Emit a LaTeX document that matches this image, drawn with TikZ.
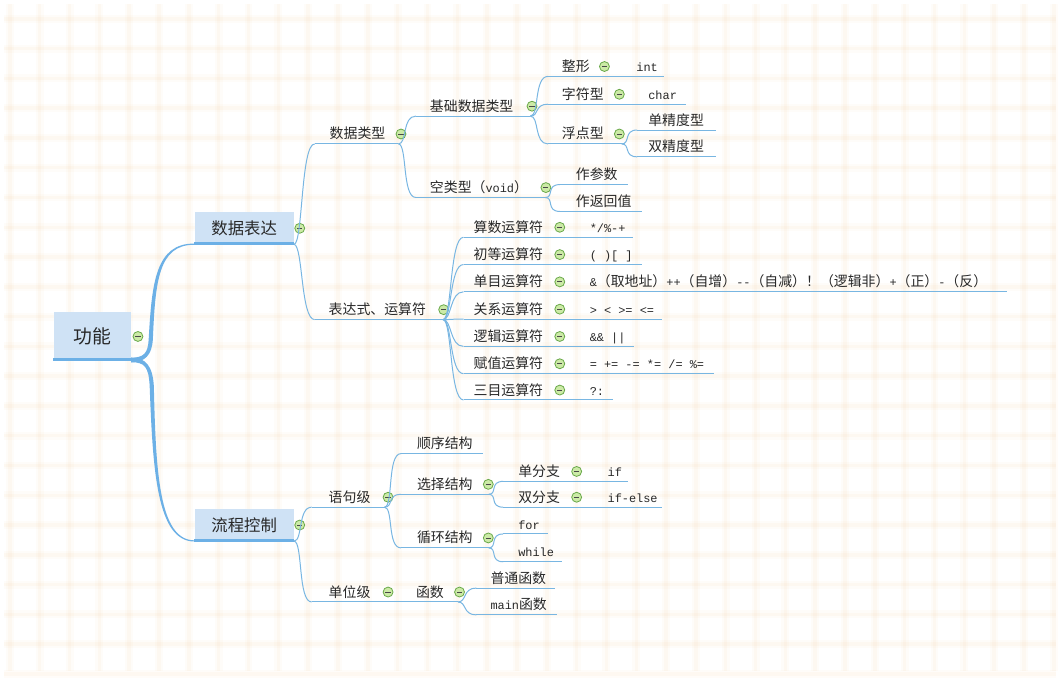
\documentclass[tikz,border=0pt]{standalone}
\usepackage{fontspec}
\setmainfont{Noto Sans CJK SC}
\newfontfamily\monofam{Liberation Mono}
\usetikzlibrary{calc}
\definecolor{gridc}{RGB}{248,214,172}
\definecolor{boxfill}{RGB}{207,226,245}
\definecolor{trunk}{RGB}{108,176,230}
\definecolor{branch}{RGB}{120,182,226}
\definecolor{txt}{RGB}{40,40,40}
\definecolor{foldfill}{RGB}{204,234,166}
\definecolor{folddraw}{RGB}{104,168,72}
\newcommand\mcode[1]{{\monofam\fontsize{12}{14}\selectfont #1}}
\begin{document}
\begin{tikzpicture}[x=1pt,y=-1pt,
  uline/.style={draw=branch,line width=1pt},
  conn/.style={draw=branch,line width=1pt},
  topic/.style={anchor=south west,inner sep=0pt,minimum height=16pt,
    append after command={(\tikzlastnode.south west) edge[uline] (\tikzlastnode.south east)}},
  lbl/.style={anchor=base west,inner sep=0pt,text=txt,font=\fontsize{14}{16}\selectfont},
  codelbl/.style={anchor=base west,inner sep=0pt,text=txt,font=\monofam\fontsize{12}{14}\selectfont},
  fold/.style={circle,minimum size=10pt,inner sep=0pt,draw=folddraw,line width=0.8pt,fill=foldfill,
    path picture={\draw[line width=0.9pt,txt!85] ($(path picture bounding box.center)+(-2.6,0)$)--($(path picture bounding box.center)+(2.6,0)$);}},
  bigbox/.style={rectangle,fill=boxfill,inner sep=0pt,text=txt},
  boxline/.style={draw=trunk,line width=3pt},
]
% background
\fill[white] (0,0) rectangle (1060,672);
\foreach \i in {0,...,35} {
  \draw[gridc,line width=8pt,opacity=0.07] ({6+30.05*\i},0) -- ({6+30.05*\i},672);
  \draw[gridc,line width=3.5pt,opacity=0.1] ({6+30.05*\i},0) -- ({6+30.05*\i},672);
}
\foreach \j in {0,...,22} {
  \draw[gridc,line width=8pt,opacity=0.07] (0,{15+30*\j}) -- (1060,{15+30*\j});
  \draw[gridc,line width=3.5pt,opacity=0.1] (0,{15+30*\j}) -- (1060,{15+30*\j});
}
\useasboundingbox (0,0) rectangle (1060,672);

% main boxes
\node[bigbox,minimum width=78pt,minimum height=49pt,font=\fontsize{19}{22}\selectfont] (root) at (89,334.5) {功能};
\node[bigbox,minimum width=100pt,minimum height=32pt,font=\fontsize{16.5}{19}\selectfont] (data) at (242,226) {数据表达};
\node[bigbox,minimum width=100pt,minimum height=32pt,font=\fontsize{16.5}{19}\selectfont] (flow) at (242,525) {流程控制};
\draw[boxline] ($(root.south west)+(0,-1)$) -- ($(root.south east)+(0,-1)$);
\draw[boxline] ($(data.south west)+(0,-1)$) -- ($(data.south east)+(0,-1)$);
\draw[boxline] ($(flow.south west)+(0,-1)$) -- ($(flow.south east)+(0,-1)$);

% trunk connectors (tapered)
\fill[trunk] ($(root.south east)+(0,-2.8)$) .. controls (141,356.2) and (145,352) .. (145.8,338)
  .. controls (149,280) and (153,241.2) .. ($(data.south west)+(0,-0.8)$)
  -- ($(data.south west)+(0,0.4)$) .. controls (155.5,242.4) and (152.5,280) .. (150,338)
  .. controls (149,354) and (142,360.8) .. ($(root.south east)+(0,1.8)$) -- cycle;
\fill[trunk] ($(root.south east)+(0,1.8)$) .. controls (142,360.8) and (145.8,366) .. (146.8,385)
  .. controls (150,470) and (154,541.4) .. ($(flow.south west)+(0,0.4)$)
  -- ($(flow.south west)+(0,-0.8)$) .. controls (156,540.2) and (153,470) .. (151,385)
  .. controls (149.8,365) and (143,356.2) .. ($(root.south east)+(0,-2.8)$) -- cycle;

\node[fold] (f-root) at (135,335) {};
\node[fold] (f-data) at (298,226) {};
\node[fold] (f-flow) at (298,525) {};

% ---------- data side ----------
\node[topic,minimum width=84pt] (dtype) at (313,141) {};
\node[topic,minimum width=129pt] (expr) at (313,318) {};
\node[lbl] (l-dtype) at (328,136) {数据类型};
\node[lbl] (l-expr) at (327,313) {表达式、运算符};
\node[fold] (f-dtype) at (400,131) {};
\node[fold] (f-expr) at (443,308) {};

\node[topic,minimum width=115pt] (basic) at (415,113) {};
\node[topic,minimum width=130pt] (void) at (415,195) {};
\node[lbl] (l-basic) at (429,108) {基础数据类型};
\node[lbl] (l-void) at (429,190) {空类型（\mcode{void}）};
\node[fold] (f-basic) at (532,103) {};
\node[fold] (f-void) at (546,185) {};

\node[topic,minimum width=117pt] (int) at (548,73) {};
\node[topic,minimum width=139pt] (chr) at (548,101) {};
\node[topic,minimum width=74pt] (flt) at (548,141) {};
\node[lbl] (l-int) at (562,68) {整形};
\node[codelbl] (c-int) at (637,68) {int};
\node[lbl] (l-chr) at (562,96) {字符型};
\node[codelbl] (c-chr) at (649,96) {char};
\node[lbl] (l-flt) at (562,136) {浮点型};
\node[fold] (f-int) at (605,63) {};
\node[fold] (f-chr) at (620,91) {};
\node[fold] (f-flt) at (620,131) {};

\node[topic,minimum width=79pt] (single) at (638,127) {};
\node[topic,minimum width=79pt] (double) at (638,154) {};
\node[lbl] (l-single) at (649,122) {单精度型};
\node[lbl] (l-double) at (649,149) {双精度型};

\node[topic,minimum width=68pt] (param) at (560,182) {};
\node[topic,minimum width=82pt] (ret) at (560,209) {};
\node[lbl] (l-param) at (576,177) {作参数};
\node[lbl] (l-ret) at (576,204) {作返回值};

% operators
\node[topic,minimum width=170pt] (op1) at (463,235) {};
\node[topic,minimum width=179pt] (op2) at (463,262.5) {};
\node[topic,minimum width=547pt] (op3) at (463,290) {};
\node[topic,minimum width=200pt] (op4) at (463,317.5) {};
\node[topic,minimum width=171pt] (op5) at (463,345) {};
\node[topic,minimum width=252pt] (op6) at (463,372.5) {};
\node[topic,minimum width=150pt] (op7) at (463,399) {};
\node[lbl] (l-op1) at (473,230) {算数运算符};
\node[lbl] (l-op2) at (473,257.5) {初等运算符};
\node[lbl] (l-op3) at (473,285) {单目运算符};
\node[lbl] (l-op4) at (473,312.5) {关系运算符};
\node[lbl] (l-op5) at (473,340) {逻辑运算符};
\node[lbl] (l-op6) at (473,367.5) {赋值运算符};
\node[lbl] (l-op7) at (473,394) {三目运算符};
\node[fold] (f-op1) at (560,225) {};
\node[fold] (f-op2) at (560,252.5) {};
\node[fold] (f-op3) at (560,280) {};
\node[fold] (f-op4) at (560,307.5) {};
\node[fold] (f-op5) at (560,335) {};
\node[fold] (f-op6) at (560,362.5) {};
\node[fold] (f-op7) at (560,389) {};
\node[codelbl] (c-op1) at (590,230) {*/\%-+};
\node[codelbl] (c-op2) at (590,257.5) {( )[ ]};
\node[lbl] (c-op3) at (590,285) {\mcode{\&}（取地址）\mcode{++}（自增）\mcode{-{}-}（自减）！（逻辑非）\mcode{+}（正）\mcode{-}（反）};
\node[codelbl] (c-op4) at (590,312.5) {> < >= <=};
\node[codelbl] (c-op5) at (590,340) {\&\& ||};
\node[codelbl] (c-op6) at (590,367.5) {= += -= *= /= \%=};
\node[codelbl] (c-op7) at (590,394) {?:};

% ---------- flow side ----------
\node[topic,minimum width=73pt] (stmt) at (310,507) {};
\node[topic,minimum width=83pt] (unit) at (310,602.5) {};
\node[topic,minimum width=57pt] (func) at (400,602.5) {};
\node[lbl] (l-stmt) at (327,502) {语句级};
\node[lbl] (l-unit) at (327,597.5) {单位级};
\node[lbl] (l-func) at (415,597.5) {函数};
\node[fold] (f-stmt) at (387,497) {};
\node[fold] (f-unit) at (387,592.5) {};
\node[fold] (f-func) at (459,592.5) {};

\node[topic,minimum width=82pt] (seq) at (400,453) {};
\node[topic,minimum width=88pt] (sel) at (400,494) {};
\node[topic,minimum width=88pt] (loop) at (400,548) {};
\node[lbl] (l-seq) at (416,448) {顺序结构};
\node[lbl] (l-sel) at (416,489) {选择结构};
\node[lbl] (l-loop) at (416,543) {循环结构};
\node[fold] (f-sel) at (488,484) {};
\node[fold] (f-loop) at (488,538) {};

\node[topic,minimum width=125pt] (sb1) at (503,481) {};
\node[topic,minimum width=160pt] (sb2) at (503,507) {};
\node[lbl] (l-sb1) at (518,476) {单分支};
\node[lbl] (l-sb2) at (518,502) {双分支};
\node[fold] (f-sb1) at (577,471) {};
\node[fold] (f-sb2) at (577,497) {};
\node[codelbl] (c-sb1) at (608,476) {if};
\node[codelbl] (c-sb2) at (608,502) {if-else};

\node[topic,minimum width=45pt] (for) at (503,534) {};
\node[topic,minimum width=59pt] (while) at (503,562) {};
\node[codelbl] (c-for) at (518,529) {for};
\node[codelbl] (c-while) at (518,557) {while};

\node[topic,minimum width=79pt] (nf) at (476,588.5) {};
\node[topic,minimum width=81pt] (mf) at (476,615.5) {};
\node[lbl] (l-nf) at (490,583.5) {普通函数};
\node[lbl] (l-mf) at (490,610.5) {\mcode{main}函数};

% ---------- thin connectors ----------
\foreach \a/\b in {data/dtype,data/expr,dtype/basic,dtype/void,basic/int,basic/chr,basic/flt,
  flt/single,flt/double,void/param,void/ret,
  expr/op1,expr/op2,expr/op3,expr/op4,expr/op5,expr/op6,expr/op7,
  flow/stmt,flow/unit,stmt/seq,stmt/sel,stmt/loop,sel/sb1,sel/sb2,loop/for,loop/while,
  func/nf,func/mf}
  \draw[conn] (\a.south east) .. controls +(9,0) and +(-14,0) .. (\b.south west);
\draw[conn] (unit.south east) -- (func.south west);
\end{tikzpicture}
\end{document}
